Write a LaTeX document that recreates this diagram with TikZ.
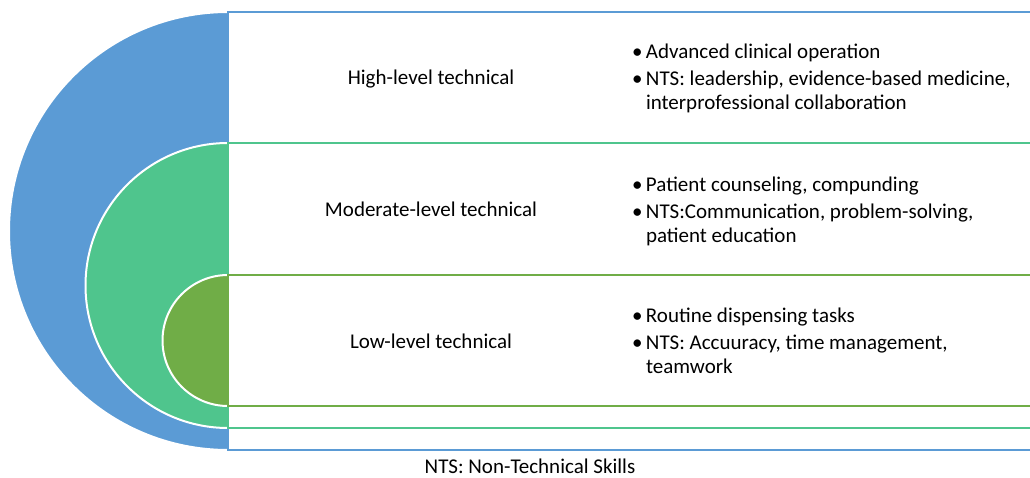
\documentclass[tikz,border=0pt]{standalone}
\usepackage{fontspec}
\setmainfont{Carlito}
\definecolor{blueband}{HTML}{5B9BD5}
\definecolor{midgreen}{HTML}{4FC58D}
\definecolor{darkgreen}{HTML}{70AD47}
\newcommand{\bulitem}[1]{\makebox[12pt][l]{\hspace*{-2pt}•}#1}
\newcommand{\hang}{\hspace*{12pt}}
\newcommand{\skillrows}[3]{\begin{tabular}[t]{@{}l@{}}\bulitem{#1}\\[3pt]\bulitem{#2}\\\hang #3\end{tabular}}
\begin{document}
\begin{tikzpicture}[x=1pt,y=-1pt,
  every node/.style={inner sep=0pt, outer sep=0pt, font=\fontsize{21}{24}\selectfont},
  half/.style={line width=2pt, draw=white},
  band/.style={line width=2.2pt},
  level/.style={anchor=base},
  items/.style={anchor=base west}]
\useasboundingbox (0,0) rectangle (1030,478);
% nested half discs
\filldraw[half, fill=blueband] (228,450) arc (90:270:219) -- cycle;
\filldraw[half, fill=midgreen] (228,428) arc (90:270:142.5) -- cycle;
\filldraw[half, fill=darkgreen] (228,406) arc (90:270:65.5) -- cycle;
% level bands
\draw[band, blueband] (1040,12) -- (228,12) -- (228,450) -- (1040,450);
\draw[band, midgreen] (1040,143) -- (228,143) -- (228,428) -- (1040,428);
\draw[band, darkgreen] (1040,275) -- (228,275) -- (228,406) -- (1040,406);
% level labels
\node[level] (high) at (431,85) {High-level technical};
\node[level] (mod) at (431,217) {Moderate-level technical};
\node[level] (low) at (431,348) {Low-level technical};
% skill lists
\node[items] (highitems) at (634,59) {\skillrows{Advanced clinical operation}
  {NTS: leadership, evidence-based medicine,}{interprofessional collaboration}};
\node[items] (moditems) at (634,192) {\skillrows{Patient counseling, compunding}
  {NTS:Communication, problem-solving,}{patient education}};
\node[items] (lowitems) at (634,322) {\skillrows{Routine dispensing tasks}
  {NTS: Accuuracy, time management,}{teamwork}};
% footnote
\node[level] (note) at (530,473) {NTS: Non-Technical Skills};
\end{tikzpicture}
\end{document}
